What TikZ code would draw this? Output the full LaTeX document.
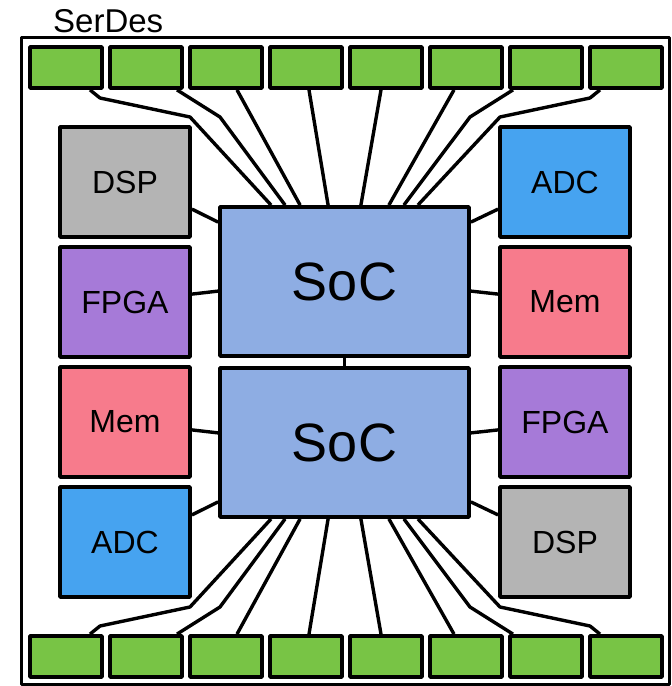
\documentclass[tikz,border=0pt]{standalone}
\usepackage{fontspec}
\setmainfont{Liberation Sans}
\definecolor{cgreen}{HTML}{78C445}
\definecolor{cgray}{HTML}{B4B4B4}
\definecolor{cadc}{HTML}{46A3F0}
\definecolor{cmem}{HTML}{F77B8C}
\definecolor{cfpga}{HTML}{A67AD8}
\definecolor{csoc}{HTML}{8EADE3}
\begin{document}
\begin{tikzpicture}[x=1pt,y=-1pt,line join=round,
  pad/.style={draw,line width=3.8pt,fill=cgreen,minimum width=72pt,minimum height=41pt,inner sep=0pt},
  blk/.style={draw,line width=3.8pt,minimum width=130pt,minimum height=110pt,inner sep=0pt,font=\fontsize{32}{36}\selectfont},
  soc/.style={draw,line width=3.8pt,fill=csoc,minimum width=249pt,minimum height=149pt,inner sep=0pt,font=\fontsize{54}{60}\selectfont},
  wire/.style={line width=3.4pt}]
\useasboundingbox (0,0) rectangle (672,686);
\node[draw,line width=3pt,minimum width=648pt,minimum height=647pt,inner sep=0pt] (frame) at (345,360.5) {};
\node[anchor=base west,inner sep=0pt,font=\fontsize{33}{38}\selectfont] (title) at (53,32) {SerDes};
\foreach \i in {0,...,7}{
  \node[pad] (t\i) at ({66+80*\i},67.5) {};
  \node[pad] (b\i) at ({66+80*\i},656.5) {};
}
\node[blk,fill=cgray] (dspL) at (125,182) {DSP};
\node[blk,fill=cfpga] (fpgaL) at (125,302) {FPGA};
\node[blk,fill=cmem] (memL) at (125,422) {Mem};
\node[blk,fill=cadc] (adcL) at (125,542) {ADC};
\node[blk,fill=cadc] (adcR) at (565,182) {ADC};
\node[blk,fill=cmem] (memR) at (565,302) {Mem};
\node[blk,fill=cfpga] (fpgaR) at (565,422) {FPGA};
\node[blk,fill=cgray] (dspR) at (565,542) {DSP};
\node[soc] (soc1) at (344.5,281.5) {SoC};
\node[soc] (soc2) at (344.5,442.5) {SoC};
% SoC link
\draw[wire] (soc1.south) -- (soc2.north);
% side wires
\draw[wire] ([yshift=-84pt]dspL.north east) -- ([yshift=-17pt]soc1.north west);
\draw[wire] ([yshift=-49pt]fpgaL.north east) -- ([yshift=-86pt]soc1.north west);
\draw[wire] ([yshift=49pt]memL.south east) -- ([yshift=86pt]soc2.south west);
\draw[wire] ([yshift=84pt]adcL.south east) -- ([yshift=17pt]soc2.south west);
\draw[wire] ([yshift=-84pt]adcR.north west) -- ([yshift=-17pt]soc1.north east);
\draw[wire] ([yshift=-49pt]memR.north west) -- ([yshift=-86pt]soc1.north east);
\draw[wire] ([yshift=49pt]fpgaR.south west) -- ([yshift=86pt]soc2.south east);
\draw[wire] ([yshift=84pt]dspR.south west) -- ([yshift=17pt]soc2.south east);
% top wires
\draw[wire] ([xshift=24pt]t0.south) -- (100,98) -- (190,117) -- ([xshift=53pt]soc1.north west);
\draw[wire] ([xshift=31pt]t1.south) -- (220,117) -- ([xshift=67pt]soc1.north west);
\draw[wire] ([xshift=11pt]t2.south) -- ([xshift=82pt]soc1.north west);
\draw[wire] ([xshift=3pt]t3.south) -- ([xshift=110pt]soc1.north west);
\draw[wire] ([xshift=-5pt]t4.south) -- ([xshift=-110pt]soc1.north east);
\draw[wire] ([xshift=-12pt]t5.south) -- ([xshift=-82pt]soc1.north east);
\draw[wire] ([xshift=-33pt]t6.south) -- (470,117) -- ([xshift=-67pt]soc1.north east);
\draw[wire] ([xshift=-26pt]t7.south) -- (590,98) -- (500,117) -- ([xshift=-53pt]soc1.north east);
% bottom wires
\draw[wire] ([xshift=24pt]b0.north) -- (100,626) -- (190,607) -- ([xshift=53pt]soc2.south west);
\draw[wire] ([xshift=31pt]b1.north) -- (220,607) -- ([xshift=67pt]soc2.south west);
\draw[wire] ([xshift=11pt]b2.north) -- ([xshift=82pt]soc2.south west);
\draw[wire] ([xshift=3pt]b3.north) -- ([xshift=110pt]soc2.south west);
\draw[wire] ([xshift=-5pt]b4.north) -- ([xshift=-110pt]soc2.south east);
\draw[wire] ([xshift=-12pt]b5.north) -- ([xshift=-82pt]soc2.south east);
\draw[wire] ([xshift=-33pt]b6.north) -- (470,607) -- ([xshift=-67pt]soc2.south east);
\draw[wire] ([xshift=-26pt]b7.north) -- (590,626) -- (500,607) -- ([xshift=-53pt]soc2.south east);
\end{tikzpicture}
\end{document}
